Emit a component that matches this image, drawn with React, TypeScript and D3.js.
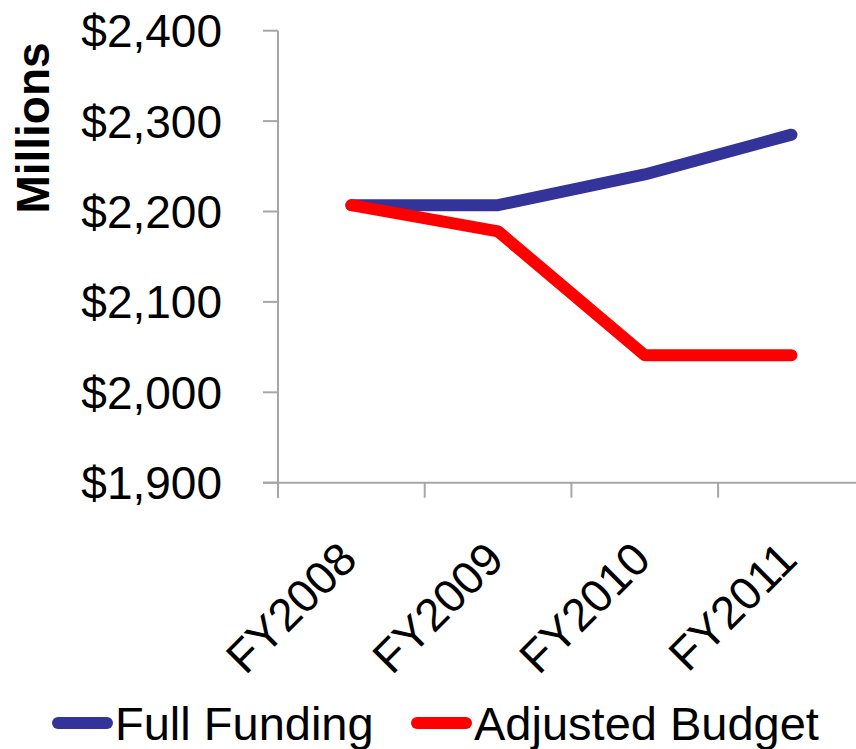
import React, { useEffect, useRef } from 'react'
import * as d3 from 'd3'

const categories = ['FY2008', 'FY2009', 'FY2010', 'FY2011']
const fullFunding = [2207, 2207, 2241, 2285]
const adjustedBudget = [2207, 2178, 2041, 2041]
const yTicks = [1900, 2000, 2100, 2200, 2300, 2400]
const seriesNames = ['Full Funding', 'Adjusted Budget']

const FONT = 'Arial, "Liberation Sans", sans-serif'

function LineChart() {
    const ref = useRef<SVGSVGElement | null>(null)

    useEffect(() => {
        const svg = d3.select(ref.current)
        svg.selectAll('*').remove()

        const WIDTH = 856,
            HEIGHT = 749,
            left = 278,
            top = 30.7,
            bottom = 482.7,
            tickLen = 15

        const x = d3.scaleBand().domain(categories).range([left, left + 4 * 146.7])
        const y = d3.scaleLinear().domain([1900, 2400]).range([bottom, top])

        // y axis
        const yAxis = svg.append('g')
        yAxis.append('line')
            .attr('x1', left).attr('x2', left)
            .attr('y1', top).attr('y2', bottom + tickLen)
            .attr('stroke', '#a6a6a6').attr('stroke-width', 2)
        yAxis.selectAll('line.tick')
            .data(yTicks)
            .enter().append('line')
            .attr('class', 'tick')
            .attr('x1', left - tickLen).attr('x2', left)
            .attr('y1', d => y(d)).attr('y2', d => y(d))
            .attr('stroke', '#a6a6a6').attr('stroke-width', 2)
        yAxis.selectAll('text')
            .data(yTicks)
            .enter().append('text')
            .attr('x', 222)
            .attr('y', d => y(d))
            .attr('dy', '0.36em')
            .attr('text-anchor', 'end')
            .style('font-family', FONT)
            .style('font-size', '46px')
            .text(d => '$' + d3.format(',')(d))

        // x axis
        const xAxis = svg.append('g')
        xAxis.append('line')
            .attr('x1', left - tickLen).attr('x2', WIDTH)
            .attr('y1', bottom).attr('y2', bottom)
            .attr('stroke', '#a6a6a6').attr('stroke-width', 2)
        xAxis.selectAll('line.tick')
            .data(categories)
            .enter().append('line')
            .attr('class', 'tick')
            .attr('x1', d => x(d) as number).attr('x2', d => x(d) as number)
            .attr('y1', bottom).attr('y2', bottom + tickLen)
            .attr('stroke', '#a6a6a6').attr('stroke-width', 2)
        xAxis.selectAll('text')
            .data(categories)
            .enter().append('text')
            .attr('transform', d => {
                const cx = (x(d) as number) + x.bandwidth() / 2 + 8
                return 'translate(' + cx + ',' + 562 + ') rotate(-45)'
            })
            .attr('text-anchor', 'end')
            .style('font-family', FONT)
            .style('font-size', '46px')
            .text(d => d)

        // y title
        svg.append('text')
            .attr('transform', 'translate(49,128) rotate(-90)')
            .attr('text-anchor', 'middle')
            .style('font-family', FONT)
            .style('font-size', '46px')
            .style('font-weight', 'bold')
            .text('Millions')

        // lines
        const line = d3.line<number>()
            .x((d, i) => (x(categories[i]) as number) + x.bandwidth() / 2)
            .y(d => y(d))

        const colors = ['#333399', '#ff0000']
        const series = [fullFunding, adjustedBudget]
        series.forEach((s, i) => {
            svg.append('path')
                .datum(s)
                .attr('d', line)
                .attr('fill', 'none')
                .attr('stroke', colors[i])
                .attr('stroke-width', 12)
                .attr('stroke-linecap', 'round')
                .attr('stroke-linejoin', 'round')
        })

        // legend
        const legendX = [52, 411]
        const legend = svg.append('g')
        seriesNames.forEach((name, i) => {
            legend.append('line')
                .attr('x1', legendX[i] + 6).attr('x2', legendX[i] + 55)
                .attr('y1', 723).attr('y2', 723)
                .attr('stroke', colors[i])
                .attr('stroke-width', 12)
                .attr('stroke-linecap', 'round')
            legend.append('text')
                .attr('x', legendX[i] + 63)
                .attr('y', 740)
                .style('font-family', FONT)
                .style('font-size', '47px')
                .text(name)
        })
    }, [])

    return <svg ref={ref} width={856} height={749}
                style={{ position: 'absolute', left: 0, top: 0, background: '#fff' }} />
}

export default function App() {
    return <LineChart />
}
